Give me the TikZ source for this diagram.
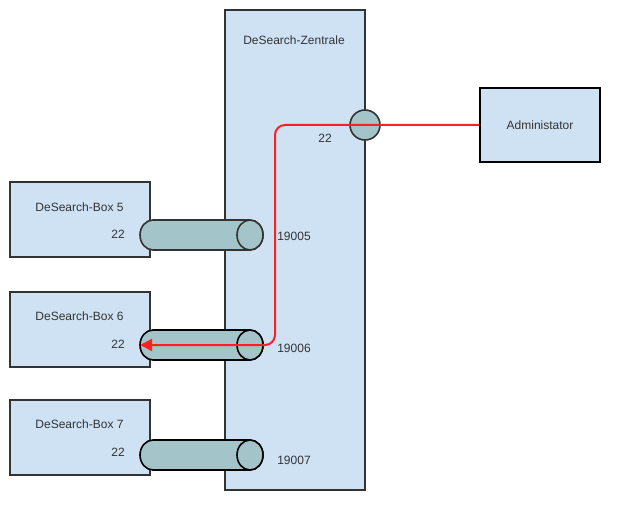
\documentclass[tikz,border=0pt]{standalone}
\usepackage{fontspec}
\setmainfont{Liberation Sans}
\usetikzlibrary{arrows.meta}
\definecolor{boxblue}{HTML}{CFE2F3}
\definecolor{cylteal}{HTML}{A3C4C8}
\definecolor{edgegray}{HTML}{333333}
\definecolor{linkred}{HTML}{FF2020}
\tikzset{
  blk/.style={draw=edgegray, fill=boxblue, line width=1.5pt, inner sep=0pt, outer sep=0pt},
  txt/.style={font=\fontsize{12}{14}\selectfont, text=edgegray, inner sep=0pt},
  cylbody/.style={draw=#1, fill=cylteal, line width=1.6pt},
  link/.style={draw=linkred, line width=2pt, rounded corners=10pt, -{Triangle[length=12pt,width=12pt]}}
}
\begin{document}
\begin{tikzpicture}[x=1pt,y=-1pt]
\useasboundingbox (0,0) rectangle (620,510);
% left boxes
\node[blk, minimum width=140pt, minimum height=75pt] (box5) at (80,219.5) {};
\node[blk, minimum width=140pt, minimum height=75pt] (box6) at (80,329.5) {};
\node[blk, minimum width=140pt, minimum height=75pt] (box7) at (80,437.5) {};
\node[txt] (box5t) at (79.5,207) {DeSearch-Box 5};
\node[txt] (box6t) at (79.5,316) {DeSearch-Box 6};
\node[txt] (box7t) at (79.5,424) {DeSearch-Box 7};
\node[txt] (box5p) at (118,234) {22};
\node[txt] (box6p) at (118,344) {22};
\node[txt] (box7p) at (118,452) {22};
% central box
\node[blk, minimum width=140pt, minimum height=480pt] (zen) at (295,250) {};
\node[txt] (zent) at (294,40) {DeSearch-Zentrale};
\node[txt] (zenp) at (325,138) {22};
\node[txt] (p5) at (294,236) {19005};
\node[txt] (p6) at (294,348) {19006};
\node[txt] (p7) at (294,460) {19007};
% administrator
\node[draw=black, fill=boxblue, line width=2pt, minimum width=120pt, minimum height=74pt, inner sep=0pt] (admin) at (540,125) {};
\node[txt] (admint) at (540,125) {Administator};
% port circle
\node[circle, draw=edgegray, fill=cylteal, line width=1.6pt, minimum size=30pt, inner sep=0pt] (port) at (365,125) {};
% cylinders
\foreach \c/\col in {235/edgegray, 345/black, 455/black}{
  \draw[cylbody=\col] (153,\c-15) -- (250,\c-15)
     arc[start angle=90, end angle=-90, x radius=13pt, y radius=15pt]
     -- (153,\c+15)
     arc[start angle=270, end angle=90, x radius=13pt, y radius=15pt] -- cycle;
  \draw[cylbody=\col] (250,\c) ellipse[x radius=13pt, y radius=15pt];
}
\coordinate (cyl6end) at (140,345);
\coordinate (bendA) at (275,125);
\coordinate (bendB) at (275,345);
% red link
\draw[link] (admin.west) -- (bendA) -- (bendB) -- (cyl6end);
\end{tikzpicture}
\end{document}
